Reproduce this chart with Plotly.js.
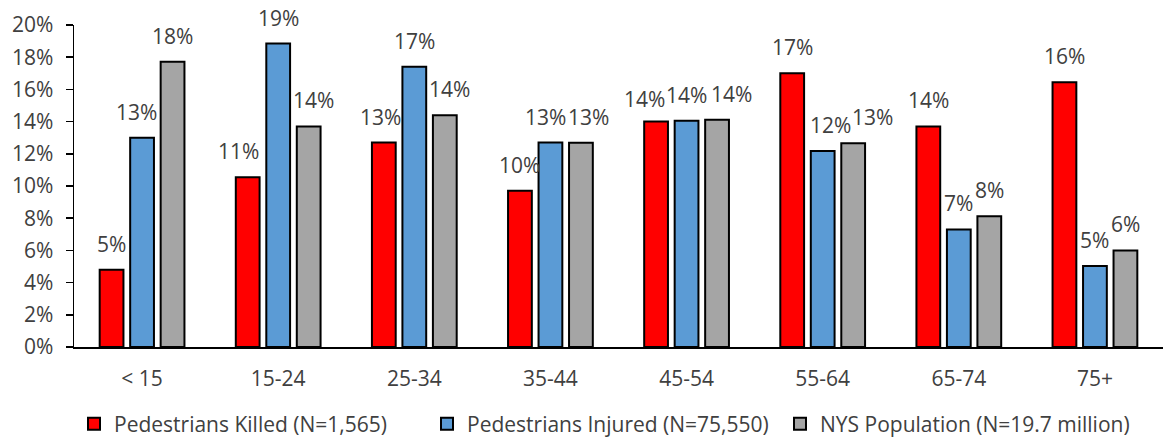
<!DOCTYPE html>
<html>
<head>
<meta charset="utf-8">
<script src="https://cdn.plot.ly/plotly-3.0.1.min.js"></script>
<style>html,body{margin:0;padding:0;background:#fff;}#chart{width:1165px;height:440px;}</style>
</head>
<body>
<div id="chart"></div>
<script>
const ageGroups = ['< 15', '15-24', '25-34', '35-44', '45-54', '55-64', '65-74', '75+'];
const killed = [0.048, 0.1055, 0.127, 0.097, 0.140, 0.170, 0.137, 0.1645];
const injured = [0.130, 0.1885, 0.174, 0.127, 0.1405, 0.1217, 0.073, 0.0503];
const population = [0.1772, 0.137, 0.1439, 0.1268, 0.1411, 0.1266, 0.0812, 0.060];
const seriesNames = ['Pedestrians Killed (N=1,565)', 'Pedestrians Injured (N=75,550)', 'NYS Population (N=19.7 million)'];
const yTickVals = [0, 0.02, 0.04, 0.06, 0.08, 0.10, 0.12, 0.14, 0.16, 0.18, 0.20];
const yTickText = ['0%', '2%', '4%', '6%', '8%', '10%', '12%', '14%', '16%', '18%', '20%'];

const colors = ['#FF0000', '#5B9BD5', '#A5A5A5'];
const seriesData = [killed, injured, population];

// label nudges (pixels) to mimic manually placed data labels
const labelNudgeX = [
  [0, -9, -3, 0, -12, 0, 0, 0],
  [-6, 0, 0, -5, 0, 8, 0, 0],
  [0, 5, 5, 8, 14, 19, 0, 0]
];
const labelNudgeY = [
  [0, 0, 0, 0, -3, 0, 0, 0],
  [0, 0, 0, 0, 0, 0, 0, 0],
  [0, 0, 0, 0, 0, 0, 0, 0]
];

const W = 1165, H = 440;
const margin = {l: 74, r: 2, t: 25, b: 93};
const bargap = 0.328;
const plotW = W - margin.l - margin.r;
const slotPx = plotW / ageGroups.length * (1 - bargap) / 3;

const font = {family: '"Open Sans", "Noto Sans", sans-serif', size: 21, color: '#404040'};

const traces = seriesData.map((vals, j) => ({
  type: 'bar',
  name: seriesNames[j],
  x: ageGroups,
  y: vals,
  marker: {color: colors[j], line: {color: '#000000', width: 2}},
  hoverinfo: 'skip'
}));

const annotations = [];
seriesData.forEach((vals, j) => {
  vals.forEach((v, i) => {
    annotations.push({
      x: ageGroups[i], y: v, xref: 'x', yref: 'y',
      text: Math.round(v * 100) + '%',
      showarrow: false,
      xanchor: 'center', yanchor: 'bottom',
      xshift: (j - 1) * slotPx + labelNudgeX[j][i],
      yshift: 10 + labelNudgeY[j][i],
      font: font
    });
  });
});

const layout = {
  width: W, height: H,
  margin: margin,
  paper_bgcolor: '#ffffff', plot_bgcolor: '#ffffff',
  font: font,
  barmode: 'group',
  bargap: bargap,
  bargroupgap: 0.22,
  showlegend: true,
  legend: {
    orientation: 'h', x: 0, xanchor: 'left',
    yref: 'container', y: 0.036, yanchor: 'middle',
    entrywidth: 308, entrywidthmode: 'pixels',
    font: font, traceorder: 'normal', itemclick: false
  },
  xaxis: {
    type: 'category',
    showline: true, linecolor: '#000000', linewidth: 1.5,
    ticks: '', showgrid: false, zeroline: false,
    tickfont: font, ticklabelstandoff: 12
  },
  yaxis: {
    range: [0, 0.2],
    tickvals: yTickVals, ticktext: yTickText,
    showline: true, linecolor: '#000000', linewidth: 1.5,
    ticks: 'outside', ticklen: 7, tickcolor: '#000000', tickwidth: 1.5,
    showgrid: false, zeroline: false,
    tickfont: font, ticklabelstandoff: 8
  },
  annotations: annotations
};

Plotly.newPlot('chart', traces, layout, {displayModeBar: false, staticPlot: true});
</script>
</body>
</html>
